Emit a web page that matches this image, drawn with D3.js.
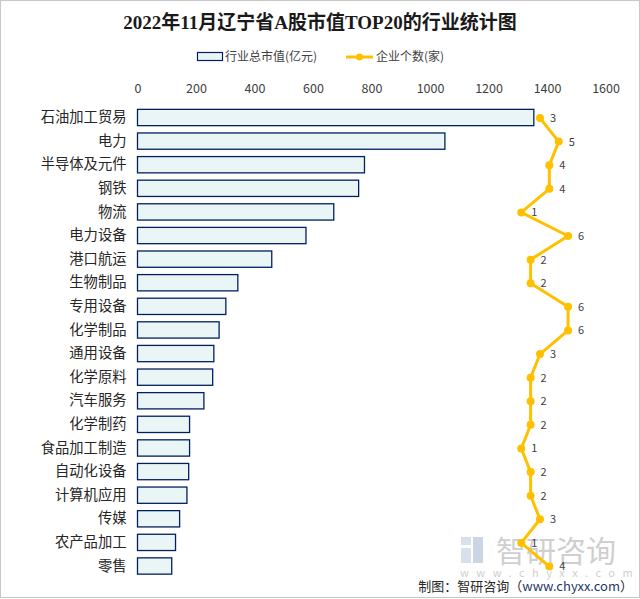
<!DOCTYPE html>
<html><head><meta charset="utf-8">
<script src="https://cdn.jsdelivr.net/npm/d3@7"></script>
<style>body{margin:0;background:#fff}svg{display:block}</style>
</head><body><svg id="c" width="640" height="599"></svg>
<script>
const categories = ["石油加工贸易","电力","半导体及元件","钢铁","物流","电力设备","港口航运","生物制品","专用设备","化学制品","通用设备","化学原料","汽车服务","化学制药","食品加工制造","自动化设备","计算机应用","传媒","农产品加工","零售"];
const marketValue = [1355,1051,776,756,671,576,459,343,302,279,261,257,227,178,178,175,169,144,130,117];
const companyCount = [3,5,4,4,1,6,2,2,6,6,3,2,2,2,1,2,2,3,1,4];
const xTicks = [0,200,400,600,800,1000,1200,1400,1600];
const titleText = "2022年11月辽宁省A股市值TOP20的行业统计图";
const legendLabels = ["行业总市值(亿元)","企业个数(家)"];

(function(){
const svg = d3.select("#c");
const W = 640, H = 599;
const pL = 137.5, pR = 605.5, pT = 105.7, pB = 577.8;
const sans = "'Noto Sans CJK SC','Noto Sans',sans-serif";

svg.append("rect").attr("x",0.5).attr("y",0.5).attr("width",W-1).attr("height",H-2)
  .attr("fill","#fff").attr("stroke","#c8c8c8");

const x = d3.scaleLinear().domain([0,1600]).range([pL,pR]);
const x2 = d3.scaleLinear().domain([-40,10]).range([pL,pR]);
const y = d3.scaleBand().domain(categories).range([pT,pB]).paddingInner(0.31).paddingOuter(0.155);

svg.append("text").attr("x",320).attr("y",29).attr("text-anchor","middle")
  .attr("font-family","'Liberation Serif','Noto Sans CJK SC',serif").attr("font-weight","bold")
  .attr("font-size",19).attr("fill","#1a1a1a").text(titleText);

const lg = svg.append("g").attr("font-family",sans).attr("font-size",12).attr("fill","#404040");
lg.append("rect").attr("x",197.5).attr("y",52.5).attr("width",25).attr("height",8)
  .attr("fill","#eaf6f6").attr("stroke","#002060").attr("stroke-width",1.2);
lg.append("text").attr("x",225).attr("y",61).text(legendLabels[0]);
lg.append("line").attr("x1",346).attr("x2",373).attr("y1",57).attr("y2",57)
  .attr("stroke","#ffc000").attr("stroke-width",3);
lg.append("circle").attr("cx",359.5).attr("cy",57).attr("r",3.5).attr("fill","#ffc000");
lg.append("text").attr("x",376).attr("y",61).text(legendLabels[1]);

const ax = svg.append("g").attr("transform",`translate(0,${pT})`)
  .call(d3.axisTop(x).tickValues(xTicks).tickSize(0).tickPadding(13).tickFormat(d3.format("d")));
ax.select(".domain").remove();
ax.selectAll("text").attr("font-family",sans).attr("font-size",12.5).attr("fill","#404040");

const ay = svg.append("g").attr("transform",`translate(${pL},0)`)
  .call(d3.axisLeft(y).tickSize(0).tickPadding(11));
ay.select(".domain").remove();
ay.selectAll("text").attr("font-family",sans).attr("font-size",14.3).attr("fill","#262626");

svg.append("g").selectAll("rect").data(categories).join("rect")
  .attr("x",x(0)).attr("y",d=>y(d))
  .attr("width",(d,i)=>x(marketValue[i])-x(0)).attr("height",y.bandwidth())
  .attr("fill","#eaf6f6").attr("stroke","#002060").attr("stroke-width",1.3);

const wm = svg.append("g").attr("opacity",0.55);
wm.append("rect").attr("x",461).attr("y",537).attr("width",10).attr("height",8).attr("fill","#b8c8dc");
wm.append("rect").attr("x",461).attr("y",548).attr("width",10).attr("height",15).attr("fill","#b8c8dc");
wm.append("rect").attr("x",473).attr("y",537).attr("width",10).attr("height",26).attr("fill","#9fb4d0");
wm.append("text").attr("x",496).attr("y",562).attr("font-family",sans).attr("font-size",30)
  .attr("fill","#a8a8a8").text("智研咨询");
wm.append("text").attr("x",460).attr("y",577).attr("font-family",sans).attr("font-size",11)
  .attr("letter-spacing",7.5).attr("fill","#a8a8a8").text("www.chyxx.com");

const cy = d => y(d) + y.bandwidth()/2 + 0.5;
const pts = categories.map((c,i)=>[x2(companyCount[i]), cy(c)]);
svg.append("path").attr("d",d3.line()(pts)).attr("fill","none")
  .attr("stroke","#ffc000").attr("stroke-width",3).attr("stroke-linejoin","round");
svg.append("g").selectAll("circle").data(pts).join("circle")
  .attr("cx",d=>d[0]).attr("cy",d=>d[1]).attr("r",4).attr("fill","#ffc000");
svg.append("g").selectAll("text").data(categories).join("text")
  .attr("x",(d,i)=>x2(companyCount[i])+10).attr("y",d=>cy(d)+4)
  .attr("font-family",sans).attr("font-size",11).attr("fill","#404040")
  .text((d,i)=>companyCount[i]);

const ft = svg.append("text").attr("x",633).attr("y",591).attr("text-anchor","end")
  .attr("font-family",sans).attr("font-size",13).attr("fill","#262626");
ft.append("tspan").text("制图：智研咨询（");
ft.append("tspan").attr("fill","#1f3864").text("www.chyxx.com");
ft.append("tspan").text("）");
})();
</script></body></html>
